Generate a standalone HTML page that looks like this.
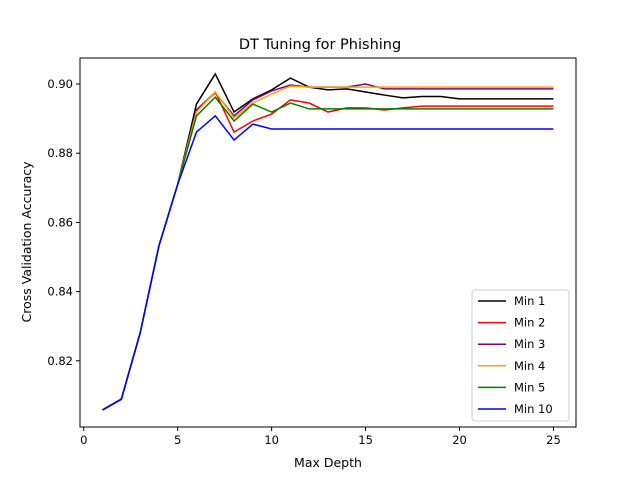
<!DOCTYPE html>
<html><head><meta charset="utf-8"><style>body{margin:0;background:#fff}svg{font-family:"DejaVu Sans","Liberation Sans",sans-serif}</style></head>
<body>
<svg id="chart" width="640" height="480" xmlns="http://www.w3.org/2000/svg"></svg>
<script>
const depths=[1,2,3,4,5,6,7,8,9,10,11,12,13,14,15,16,17,18,19,20,21,22,23,24,25];
const head=[0.8058,0.8089,0.828,0.8532,0.871];
const min1=head.concat([0.8942,0.9029,0.8919,0.8957,0.8983,0.9017,0.8991,0.8983,0.8986,0.8977,0.8968,0.896,0.8964,0.8964,0.8957,0.8957,0.8957,0.8957,0.8957,0.8957]);
const min2=head.concat([0.8925,0.8977,0.8861,0.8893,0.8913,0.8954,0.8945,0.8919,0.8931,0.8931,0.8925,0.8931,0.8936,0.8936,0.8936,0.8936,0.8936,0.8936,0.8936,0.8936]);
const min3=head.concat([0.8925,0.8974,0.8908,0.8954,0.898,0.8997,0.8991,0.8991,0.8991,0.900,0.8986,0.8986,0.8986,0.8986,0.8986,0.8986,0.8986,0.8986,0.8986,0.8986]);
const min4=head.concat([0.8919,0.8977,0.8902,0.8945,0.8971,0.8994,0.8991,0.8991,0.8991,0.8991,0.8991,0.8991,0.8991,0.8991,0.8991,0.8991,0.8991,0.8991,0.8991,0.8991]);
const min5=head.concat([0.8908,0.8962,0.8893,0.8942,0.8919,0.8945,0.8928,0.8928,0.8928,0.8928,0.8928,0.8928,0.8928,0.8928,0.8928,0.8928,0.8928,0.8928,0.8928,0.8928]);
const min10=head.concat([0.8861,0.8908,0.8838,0.8884,0.887,0.887,0.887,0.887,0.887,0.887,0.887,0.887,0.887,0.887,0.887,0.887,0.887,0.887,0.887,0.887]);
const seriesNames=["Min 1","Min 2","Min 3","Min 4","Min 5","Min 10"];
const seriesColors=["black","red","purple","orange","green","blue"];
const seriesData=[min1,min2,min3,min4,min5,min10];
const xTicks=[0,5,10,15,20,25];
const yTicks=[0.82,0.84,0.86,0.88,0.90];
const L=80,R=576,T=58,B=427;
const sx=v=>L+(v+0.2)/26.4*(R-L);
const sy=v=>84+(0.90-v)/0.01*34.6;
const svg=document.getElementById('chart');
const NS="http://www.w3.org/2000/svg";
function mk(t,a,p){const e=document.createElementNS(NS,t);for(const k in a)e.setAttribute(k,a[k]);(p||svg).appendChild(e);return e;}
let e=mk('text',{x:320,y:49,'text-anchor':'middle','font-size':14.5});e.textContent="DT Tuning for Phishing";


xTicks.forEach(t=>{const x=sx(t);
 let l=mk('line',{x1:x,x2:x,y1:B,y2:B+4,stroke:'#000'});
 
 
 let tx=mk('text',{x:x,y:B+17,'text-anchor':'middle','font-size':11.5});tx.textContent=t;
 
 });
yTicks.forEach(t=>{const y=sy(t);
 let l=mk('line',{x1:L-4,x2:L,y1:y,y2:y,stroke:'#000'});
 
 
 let tx=mk('text',{x:L-7,y:y+4,'text-anchor':'end','font-size':11.5});tx.textContent=t.toFixed(2);
 
 });
e=mk('text',{x:328,y:467,'text-anchor':'middle','font-size':12.5});e.textContent="Max Depth";


e=mk('text',{x:31,y:242,'text-anchor':'middle','font-size':12.5,transform:'rotate(-90 31 242)'});e.textContent="Cross Validation Accuracy";


seriesData.forEach((d,i)=>{
 const p=mk('polyline',{points:d.map((v,j)=>sx(depths[j])+','+sy(v)).join(' '),fill:'none',stroke:seriesColors[i],'stroke-width':1.5});
 
 
});
e=mk('rect',{x:L,y:T,width:R-L,height:B-T,fill:'none',stroke:'#000','stroke-width':1});


const lg=mk('g',{});


mk('rect',{x:472,y:290,width:97,height:131,rx:3,fill:'#fff',stroke:'#ccc'},lg);
seriesNames.forEach((n,i)=>{const y=301+i*21.6;
 const g=mk('g',{},lg);
 
 
 mk('line',{x1:478,x2:506,y1:y,y2:y,stroke:seriesColors[i],'stroke-width':1.5},g);
 const t=mk('text',{x:514,y:y+4,'font-size':11.5},g);t.textContent=n;});
</script>
</body></html>
